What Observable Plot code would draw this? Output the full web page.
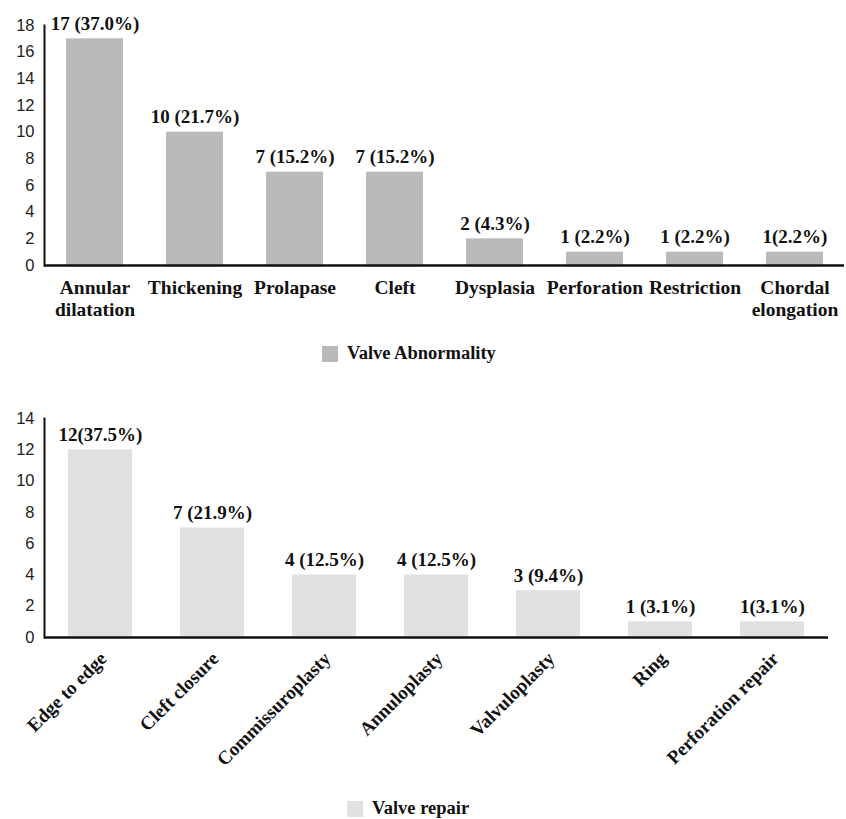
<!DOCTYPE html>
<html>
<head>
<meta charset="utf-8">
<script src="https://cdn.jsdelivr.net/npm/d3@7"></script>
<script src="https://cdn.jsdelivr.net/npm/@observablehq/plot@0.6"></script>
<style>
  html, body { margin: 0; padding: 0; background: #fff; }
  #wrap { position: relative; width: 846px; height: 819px; }
  .panel { position: absolute; left: 0; }
  .legend {
    position: absolute; display: flex; align-items: center;
    font-family: "Liberation Serif", "DejaVu Serif", serif;
    font-weight: bold; font-size: 18.5px; color: #111;
  }
  .legend .swatch { width: 16px; height: 16px; margin-right: 9px; }
</style>
</head>
<body>
<div id="wrap"></div>
<script>
// Valve abnormality counts
const abnormalityCategories = ["Annular\ndilatation", "Thickening", "Prolapase", "Cleft", "Dysplasia", "Perforation", "Restriction", "Chordal\nelongation"];
const abnormalityCounts = [17, 10, 7, 7, 2, 1, 1, 1];
const abnormalityLabels = ["17 (37.0%)", "10 (21.7%)", "7 (15.2%)", "7 (15.2%)", "2 (4.3%)", "1 (2.2%)", "1 (2.2%)", "1(2.2%)"];
const abnormalityTicks = [0, 2, 4, 6, 8, 10, 12, 14, 16, 18];

// Valve repair counts
const repairCategories = ["Edge to edge", "Cleft closure", "Commissuroplasty", "Annuloplasty", "Valvuloplasty", "Ring", "Perforation repair"];
const repairCounts = [12, 7, 4, 4, 3, 1, 1];
const repairLabels = ["12(37.5%)", "7 (21.9%)", "4 (12.5%)", "4 (12.5%)", "3 (9.4%)", "1 (3.1%)", "1(3.1%)"];
const repairTicks = [0, 2, 4, 6, 8, 10, 12, 14];

const SERIF = '"Liberation Serif", "DejaVu Serif", serif';
const SANS = '"Liberation Sans", Arial, sans-serif';

function panel({categories, counts, labels, ticks, color, height, marginTop, marginBottom, marginRight, rotate}) {
  const data = categories.map((c, i) => ({cat: c, n: counts[i], label: labels[i]}));
  const xAxis = rotate
    ? Plot.axisX({tickSize: 0, tickPadding: 6, dx: 3, dy: 12, tickRotate: -45, fontSize: 19, fontWeight: "bold", fontFamily: SERIF, fill: "#111", label: null})
    : Plot.axisX({tickSize: 0, tickPadding: 14, fontSize: 19.5, fontWeight: "bold", fontFamily: SERIF, fill: "#111", label: null, lineHeight: 1.08, lineAnchor: "top"});
  return Plot.plot({
    width: 846,
    height,
    marginLeft: 44,
    marginRight,
    marginTop,
    marginBottom,
    style: {background: "white", overflow: "visible"},
    x: {domain: categories, paddingInner: 0.43, paddingOuter: 0.215},
    y: {domain: [ticks[0], ticks[ticks.length - 1]]},
    marks: [
      Plot.barY(data, {x: "cat", y: "n", fill: color}),
      Plot.text(data, {x: "cat", y: "n", text: "label", lineAnchor: "bottom", dy: -9,
        fontSize: 19, fontWeight: "bold", fontFamily: SERIF, fill: "#111"}),
      Plot.axisY({ticks, tickSize: 0, tickPadding: 10, fontSize: 16.5, fontFamily: SANS, fill: "#222", label: null}),
      xAxis,
      Plot.frame({anchor: "left", stroke: "#111", strokeWidth: 2}),
      Plot.ruleY([0], {stroke: "#111", strokeWidth: 2.5})
    ]
  });
}

const wrap = document.getElementById("wrap");

const abnormalityChart = panel({
  categories: abnormalityCategories, counts: abnormalityCounts, labels: abnormalityLabels,
  ticks: abnormalityTicks, color: "#bababa",
  height: 330, marginTop: 25, marginBottom: 65, marginRight: 2, rotate: false
});
abnormalityChart.classList.add("panel");
abnormalityChart.style.top = "0px";
wrap.appendChild(abnormalityChart);

const repairChart = panel({
  categories: repairCategories, counts: repairCounts, labels: repairLabels,
  ticks: repairTicks, color: "#e1e1e1",
  height: 420, marginTop: 43, marginBottom: 158, marginRight: 18, rotate: true
});
repairChart.classList.add("panel");
repairChart.style.top = "375px";
wrap.appendChild(repairChart);

function legend(text, color, left, topPx) {
  const el = document.createElement("div");
  el.className = "legend";
  el.style.left = left + "px";
  el.style.top = topPx + "px";
  const sw = document.createElement("span");
  sw.className = "swatch";
  sw.style.background = color;
  el.appendChild(sw);
  el.appendChild(document.createTextNode(text));
  wrap.appendChild(el);
}
legend("Valve Abnormality", "#bababa", 322, 343);
legend("Valve repair", "#e1e1e1", 347, 798);
</script>
</body>
</html>
